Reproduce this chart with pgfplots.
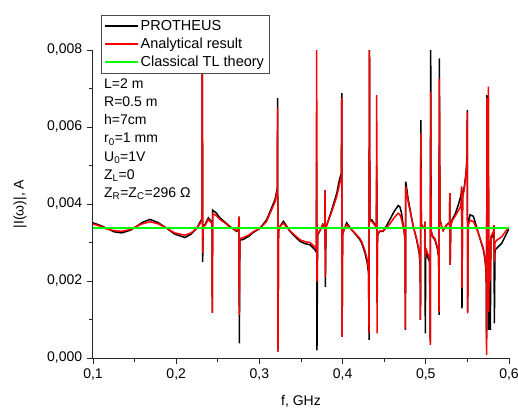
\documentclass[border=0pt]{standalone}
\usepackage{pgfplots}
\pgfplotsset{compat=1.18}
\usepackage{pgfplotstable}
\usepackage{fontspec}
\setmainfont{Liberation Sans}

\pgfplotstableread{
f P A
0.1000 0.00351 0.00348
0.1080 0.00345 0.00343
0.1165 0.00337 0.00335
0.1250 0.00328 0.00331
0.1345 0.00325 0.00329
0.1450 0.00332 0.00334
0.1525 0.00342 0.00342
0.1600 0.00353 0.00349
0.1685 0.00360 0.00354
0.1780 0.00352 0.00349
0.1886 0.00337 0.00337
0.1980 0.00322 0.00325
0.2106 0.00313 0.00319
0.2180 0.00322 0.00325
0.2246 0.00337 0.00337
0.2290 0.00354 0.00350
0.2310 0.00362 0.00358
0.2314 0.009 0.009
0.2318 0.00250 0.00273
0.2325 0.00345 0.00342
0.2346 0.00346 0.00344
0.2386 0.00364 0.00360
0.2420 0.00355 0.00352
0.2430 0.00350 0.00348
0.2434 0.00117 0.00117
0.2438 0.00384 0.00375
0.2480 0.00377 0.00370
0.2526 0.00364 0.00360
0.2590 0.00352 0.00350
0.2647 0.00341 0.00340
0.2727 0.00329 0.00331
0.2750 0.00335 0.00336
0.2755 0.00367 0.00367
0.2759 0.00038 0.00112
0.2765 0.00306 0.00310
0.2807 0.00308 0.00313
0.2870 0.00316 0.00319
0.2927 0.00326 0.00328
0.3007 0.00337 0.00337
0.3087 0.00359 0.00355
0.3147 0.00390 0.00385
0.3187 0.00411 0.00405
0.3207 0.00432 0.00425
0.3215 0.00440 0.00435
0.3219 0.00675 0.00649
0.3223 0.00020 0.00016
0.3230 0.00330 0.00330
0.3248 0.00342 0.00342
0.3288 0.00355 0.00350
0.3320 0.00345 0.00342
0.3368 0.00329 0.00330
0.3420 0.00317 0.00320
0.3488 0.00303 0.00307
0.3550 0.00297 0.00302
0.3609 0.00294 0.00300
0.3668 0.00281 0.00288
0.3684 0.00275 0.00282
0.3688 0.00510 0.009
0.3692 0.00020 0.00198
0.3700 0.00320 0.00322
0.3729 0.00331 0.00332
0.3761 0.00347 0.00346
0.3785 0.00340 0.00340
0.3789 0.00436 0.00436
0.3793 0.00185 0.00211
0.3800 0.00340 0.00340
0.3810 0.00346 0.00345
0.3870 0.00385 0.00380
0.3930 0.00428 0.00420
0.3961 0.00462 0.00450
0.3985 0.00480 0.00470
0.3990 0.00688 0.00675
0.3994 0.00055 0.00055
0.4000 0.00320 0.00322
0.4017 0.00333 0.00334
0.4049 0.00351 0.00346
0.4109 0.00333 0.00333
0.4160 0.00320 0.00322
0.4209 0.00307 0.00310
0.4230 0.00298 0.00302
0.4270 0.00272 0.00278
0.4297 0.00246 0.00255
0.4312 0.00220 0.00230
0.4318 0.00047 0.00065
0.4322 0.009 0.009
0.4328 0.00360 0.00355
0.4350 0.00359 0.00355
0.4390 0.00346 0.00344
0.4406 0.00340 0.00340
0.4410 0.00500 0.00683
0.4414 0.00143 0.00064
0.4420 0.00320 0.00322
0.4447 0.00329 0.00330
0.4487 0.00329 0.00330
0.4527 0.00343 0.00338
0.4567 0.00359 0.00348
0.4618 0.00380 0.00364
0.4668 0.00396 0.00376
0.4690 0.00392 0.00372
0.4708 0.00377 0.00360
0.4736 0.00333 0.00333
0.4750 0.00310 0.00312
0.4755 0.00073 0.00075
0.4759 0.00458 0.00445
0.4789 0.00411 0.00405
0.4849 0.00342 0.00342
0.4890 0.00307 0.00310
0.4921 0.00272 0.00278
0.4932 0.00240 0.00250
0.4936 0.00100 0.00099
0.4940 0.00618 0.00583
0.4946 0.00350 0.00350
0.4962 0.00338 0.00338
0.4986 0.00340 0.00340
0.4990 0.00354 0.00354
0.4994 0.00064 0.00260
0.5000 0.00280 0.00285
0.5022 0.00263 0.00272
0.5045 0.00250 0.00260
0.5054 0.00040 0.00034
0.5058 0.009 0.00692
0.5064 0.00330 0.00330
0.5082 0.00315 0.00317
0.5110 0.00307 0.00310
0.5142 0.00281 0.00286
0.5155 0.00260 0.00265
0.5159 0.00112 0.00120
0.5163 0.00778 0.00726
0.5170 0.00360 0.00358
0.5190 0.00342 0.00342
0.5209 0.00331 0.00332
0.5250 0.00346 0.00345
0.5285 0.00352 0.00350
0.5289 0.00428 0.00428
0.5293 0.00242 0.00242
0.5300 0.00345 0.00345
0.5317 0.00359 0.00356
0.5357 0.00376 0.00370
0.5397 0.00402 0.00385
0.5420 0.00420 0.00395
0.5427 0.00430 0.00410
0.5431 0.00445 0.00445
0.5435 0.00129 0.00181
0.5442 0.00420 0.00415
0.5463 0.00445 0.00440
0.5483 0.00480 0.00475
0.5495 0.00520 0.00510
0.5499 0.00644 0.00638
0.5503 0.00120 0.00116
0.5510 0.00350 0.00345
0.5532 0.00372 0.00358
0.5572 0.00368 0.00354
0.5600 0.00348 0.00342
0.5632 0.00324 0.00324
0.5692 0.00281 0.00285
0.5712 0.00255 0.00260
0.5726 0.00220 0.00225
0.5730 0.00050 0.00008
0.5735 0.00683 0.00675
0.5740 0.00280 0.00290
0.5748 0.00300 0.00305
0.5752 0.00680 0.00705
0.5756 0.00073 0.00120
0.5766 0.00280 0.00290
0.5772 0.00300 0.00305
0.5776 0.00073 0.00200
0.5782 0.00310 0.00315
0.5815 0.00320 0.00330
0.5820 0.00330 0.00345
0.5824 0.00090 0.00250
0.5832 0.00280 0.00300
0.5853 0.00285 0.00306
0.5913 0.00298 0.00315
0.5973 0.00324 0.00333
0.6000 0.00337 0.00340
}\datatable

\pgfplotstableread{
f C
0.1 0.00338
0.6 0.00338
}\tltable

\begin{document}
\fontsize{14}{16.8}\selectfont
\begin{tikzpicture}
\useasboundingbox (-93pt,-49pt) rectangle (425pt,358pt);
\begin{axis}[
  at={(0pt,0pt)}, anchor=south west,
  scale only axis, width=416pt, height=308pt,
  xmin=0.1, xmax=0.6, ymin=0, ymax=0.008,
  axis x line=bottom, axis y line=left,
  axis line style={-, line width=1pt, black!85},
  every tick/.style={line width=0.9pt, black!85},
  tick align=outside,
  major tick length=6pt, minor tick length=4pt,
  minor x tick num=1, minor y tick num=1,
  scaled y ticks=false, scaled x ticks=false,
  xtick={0.1,0.2,0.3,0.4,0.5,0.6},
  xticklabels={{0,1},{0,2},{0,3},{0,4},{0,5},{0,6}},
  ytick={0,0.002,0.004,0.006,0.008},
  yticklabels={{0,000},{0,002},{0,004},{0,006},{0,008}},
  tick label style={font=\fontsize{14}{16.8}\selectfont},
  xlabel={f, GHz},
  ylabel={|I(ω)|, A},
  every axis x label/.style={at={(axis description cs:0.5,-0.1396)}, anchor=center, font=\fontsize{14}{16.8}\selectfont},
  every axis y label/.style={at={(axis description cs:-0.1755,0.5)}, anchor=center, rotate=90, font=\fontsize{14}{16.8}\selectfont},
  legend style={at={(axis description cs:0.019,1.115)}, anchor=north west,
    draw=black!70, line width=0.8pt, fill=white, inner xsep=3pt, inner ysep=3pt,
    row sep=1.4pt, font=\fontsize{14.5}{17}\selectfont, cells={anchor=west}},
  legend image code/.code={\draw[#1, line width=1.4pt] (0pt,0pt) -- (33pt,0pt);},
]
\addplot[black, line width=1.5pt] table[x=f, y=P] {\datatable};
\addlegendentry{PROTHEUS}
\addplot[red, line width=1.5pt] table[x=f, y=A] {\datatable};
\addlegendentry{Analytical result}
\addplot[green, line width=1.5pt] table[x=f, y=C] {\tltable};
\addlegendentry{Classical TL theory}
\node[anchor=north west, align=left, inner sep=0pt, font=\fontsize{14}{18.3}\selectfont]
  at (axis description cs:0.0264,0.909)
  {L=2 m\\R=0.5 m\\h=7cm\\r\textsubscript{0}=1 mm\\U\textsubscript{0}=1V\\Z\textsubscript{L}=0\\Z\textsubscript{R}=Z\textsubscript{C}=296 Ω};
\end{axis}
\end{tikzpicture}
\end{document}
